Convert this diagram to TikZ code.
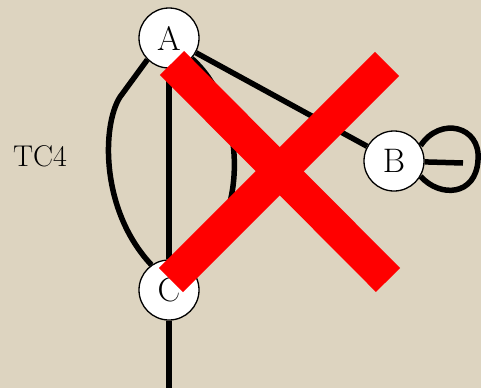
\documentclass[tikz,border=0pt]{standalone}
\usetikzlibrary{positioning,backgrounds}
\definecolor{papyrus}{RGB}{221,212,192}
\begin{document}
\begin{tikzpicture}[x=1pt,y=-1pt,
    vertex/.style={circle,draw=black,line width=1.3pt,fill=white,minimum size=60pt,
      inner sep=0pt,font=\fontsize{34}{34}\selectfont},
    edge/.style={line width=5.5pt,black},
    cross/.style={line width=34pt,red}]
    \useasboundingbox (0,0) rectangle (481,388);
    % Knuder A, B og C
    \node[vertex] (A) at (169,38) {A};
    \node[vertex] (B) at (394,161) {B};
    \node[vertex] (C) at (169,290) {C};
    \coordinate (bot) at (169,388);
    \coordinate (tip) at (463,163);
    \node[font=\fontsize{30}{30}\selectfont] (tc) at (40,156) {TC4};
    \begin{pgfonlayer}{background}
      % Baggrund
      \fill[papyrus] (0,0) rectangle (481,388);
      % Kanter mellem knuderne
      \draw[edge] (A) -- (B);
      \draw[edge] (A) -- (C) -- (bot);
      \draw[edge] (A.225) -- (120,97) .. controls (102,125) and (100,210) .. (C.125);
      \draw[edge] (A.-42) .. controls (249,110) and (249,225) .. (C.49);
      % Løkke ved B
      \draw[edge] (B.30) .. controls (440,116) and (481,126) .. (478,160)
        .. controls (476,196) and (440,198) .. (B.-30);
      \draw[edge] (B) -- (tip);
    \end{pgfonlayer}
    % Rødt kryds over det hele
    \draw[cross] (172,63) -- (388,280);
    \draw[cross] (387,64) -- (171,280);
\end{tikzpicture}
\end{document}
